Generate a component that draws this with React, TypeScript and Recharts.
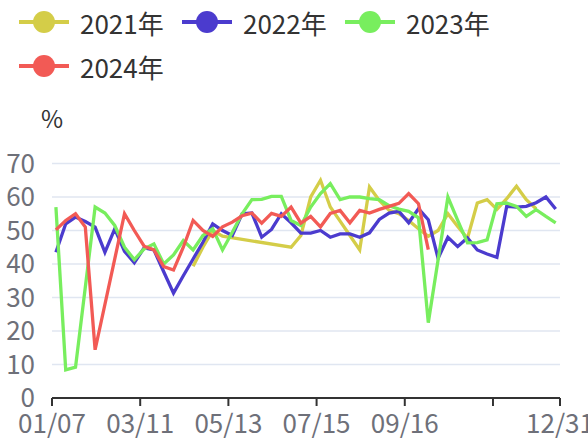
import { CartesianGrid, Line, LineChart, XAxis, YAxis } from "recharts";

const FONT = '"Microsoft YaHei", "Noto Sans CJK SC", sans-serif';

// x axis: weeks counted from 01/07, labels every 9 weeks, last tick at the axis end
const TICK_LABELS = ["01/07", "03/11", "05/13", "07/15", "09/16", "", "12/31"];
const TICK_WEEKS = [0, 9, 18, 27, 36, 45, 51.84];
const FIRST_SAMPLE = 0.4; // first weekly sample sits a few days after 01/07

const Y_TICKS = [0, 10, 20, 30, 40, 50, 60, 70];

// weekly values, null = no sample that week
const V2021 = [
  null, null, null, null, null, null, null, null, null, null, null, null, null, null,
  39.3, 45, 50, 48.3, null, null, null, null, null, null, 45, 48.5,
  60, 65, 57, 52.8, 48.5, 44.2, 63, 59, 56, 55, 53, 50.5, 48.3, 50,
  55, 51.2, 47.7, 58.2, 59.2, 56.3, 59.5, 63.2, 59.2, 56.5, null, null,
];
const V2022 = [
  43.5, 52, 54, 52.7, 51, 43.5, 50.5, 43.8, 40.4, 44.8, 44.2, 37.7, 31.3,
  36.5, 41.5, 46.5, 52, 50, 48.5, 55, 55.2, 48, 50.3, 55, 52.3, 49.2,
  49.2, 50, 48, 49, 49, 48, 49.3, 53.3, 55.2, 55.7, 52.3, 56.5, 53.2,
  41.7, 48, 45.2, 47.8, 44.2, 43, 42, 57.2, 57, 57.2, 58.3, 60, 56.4,
];
const V2023 = [
  57, 8.4, 9.2, null, 57, 55.2, 51.5, 45, 41.3, 44.5, 46, 40, 42.7,
  47, 44.2, 48.5, 50.5, 44.2, 49.5, 55, 59.2, 59.3, 60.2, 60.2, 53, 51.5,
  57, 61, 64, 59.2, 60, 60, 59.5, 59.2, 57.4, 56.4, 55.7, 53.8, 22.5,
  null, 60, 53, 46.3, 46.4, 47.2, 58, 58.2, 57.2, 54.2, 56.2, 54.2, 52.3,
];
const V2024 = [
  50.2, 53, 55, 51, 14.4, null, null, 55, 50, 45.3, 44.2, 39.2, 38.2,
  45, 53, 50, 48.2, 51.1, 52.5, 54.4, 55.2, 52.2, 55.1, 54.2, 57, 52.2,
  54.2, 51.1, 55.1, 56, 52.3, 56, 55.2, 56.3, 57.2, 58.1, 61, 58, 44.3,
  null, null, null, null, null, null, null, null, null, null, null, null, null,
];

const SERIES = [
  { key: "y2021", name: "2021年", color: "#D4CD48", values: V2021 },
  { key: "y2022", name: "2022年", color: "#4B3BCE", values: V2022 },
  { key: "y2023", name: "2023年", color: "#78EE5E", values: V2023 },
  { key: "y2024", name: "2024年", color: "#F25A55", values: V2024 },
];

const data = V2022.map((_, i) => {
  const row: Record<string, number | null> = { x: i + FIRST_SAMPLE };
  SERIES.forEach((s) => (row[s.key] = s.values[i]));
  return row;
});

const LEGEND_POS = [
  { x: 19, y: 22 },
  { x: 182, y: 22 },
  { x: 345, y: 22 },
  { x: 19, y: 66 },
];

function Overlay() {
  return (
    <svg
      width={588}
      height={439}
      style={{ position: "absolute", left: 0, top: 0, pointerEvents: "none" }}
    >
      {SERIES.map((s, i) => {
        const p = LEGEND_POS[i];
        return (
          <g key={s.key}>
            <line x1={p.x} x2={p.x + 50} y1={p.y} y2={p.y} stroke={s.color} strokeWidth={4} />
            <circle cx={p.x + 25} cy={p.y} r={11} fill={s.color} />
            <text
              x={p.x + 61}
              y={p.y}
              dominantBaseline="central"
              fontSize={26}
              fontFamily={FONT}
              fill="#333"
            >
              {s.name}
            </text>
          </g>
        );
      })}
      <text x={52} y={128} textAnchor="middle" fontSize={24} fontFamily={FONT} fill="#333">
        %
      </text>
    </svg>
  );
}

export default function App() {
  const tick = { fontSize: 26, fill: "#6E7079", fontFamily: FONT };
  return (
    <div style={{ position: "absolute", left: 0, top: 0, width: 588, height: 439, background: "#fff" }}>
      <LineChart
        width={588}
        height={439}
        data={data}
        margin={{ top: 163.5, right: 28, bottom: 0, left: 0 }}
      >
        <CartesianGrid vertical={false} stroke="#E0E6F1" strokeWidth={1.5} />
        <XAxis
          type="number"
          dataKey="x"
          domain={[0, TICK_WEEKS[TICK_WEEKS.length - 1]]}
          ticks={TICK_WEEKS}
          interval={0}
          tickFormatter={(_v, i) => TICK_LABELS[i]}
          height={41}
          tickSize={8}
          tickMargin={9}
          stroke="#333"
          strokeWidth={2}
          tick={tick}
        />
        <YAxis
          type="number"
          domain={[0, 70]}
          ticks={Y_TICKS}
          interval={0}
          width={52}
          axisLine={false}
          tickLine={false}
          tickMargin={11}
          tick={tick}
        />
        {SERIES.map((s) => (
          <Line
            key={s.key}
            type="linear"
            dataKey={s.key}
            name={s.name}
            stroke={s.color}
            strokeWidth={3.3}
            dot={false}
            connectNulls
            isAnimationActive={false}
          />
        ))}
      </LineChart>
      <Overlay />
    </div>
  );
}
